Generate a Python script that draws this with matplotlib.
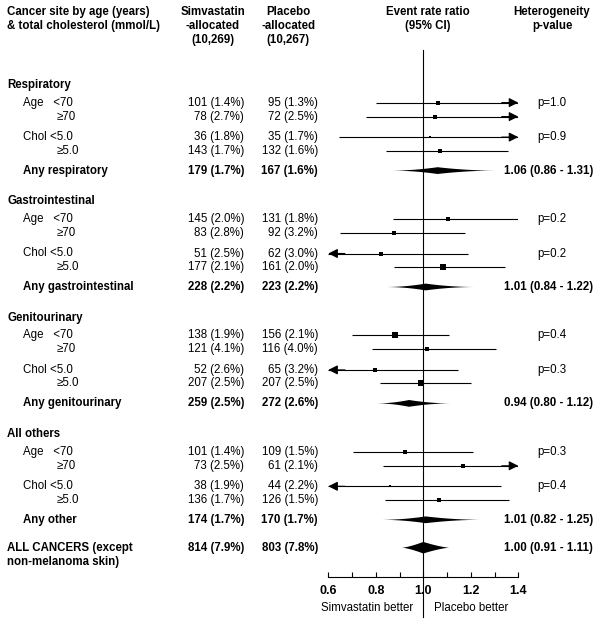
import numpy as np
import matplotlib
matplotlib.use("Agg")
import matplotlib.pyplot as plt
import matplotlib.transforms as mtransforms
from matplotlib.patches import Polygon

plt.rcParams['font.family'] = ['Liberation Sans', 'DejaVu Sans']

# ---------------- data ----------------
groups = ["Respiratory", "Gastrointestinal", "Genitourinary", "All others"]
summary_names = ["Any respiratory", "Any gastrointestinal", "Any genitourinary", "Any other"]
sub_labels = ["Age   <70", "\u226570", "Chol <5.0", "\u22655.0"]

simv_n = [[101, 78, 36, 143], [145, 83, 51, 177], [138, 121, 52, 207], [101, 73, 38, 136]]
simv_pct = [[1.4, 2.7, 1.8, 1.7], [2.0, 2.8, 2.5, 2.1], [1.9, 4.1, 2.6, 2.5], [1.4, 2.5, 1.9, 1.7]]
plac_n = [[95, 72, 35, 132], [131, 92, 62, 161], [156, 116, 65, 207], [109, 61, 44, 126]]
plac_pct = [[1.3, 2.5, 1.7, 1.6], [1.8, 3.2, 3.0, 2.0], [2.1, 4.0, 3.2, 2.5], [1.5, 2.1, 2.2, 1.5]]

sum_simv_n = [179, 228, 259, 174]
sum_simv_pct = [1.7, 2.2, 2.5, 1.7]
sum_plac_n = [167, 223, 272, 170]
sum_plac_pct = [1.6, 2.2, 2.6, 1.7]

# event rate ratios (inf = beyond plotted scale)
inf = np.inf
est = [[1.06, 1.05, 1.03, 1.07], [1.105, 0.875, 0.82, 1.085],
       [0.882, 1.014, 0.798, 0.989], [0.924, 1.166, 0.859, 1.067]]
lo = [[0.80, 0.76, 0.645, 0.845], [0.872, 0.65, -inf, 0.878],
      [0.70, 0.785, -inf, 0.816], [0.704, 0.83, -inf, 0.84]]
hi = [[inf, inf, inf, 1.355], [1.40, 1.177, 1.188, 1.345],
      [1.11, 1.307, 1.145, 1.199], [1.21, inf, 1.328, 1.36]]

p_age = ["p=1.0", "p=0.2", "p=0.4", "p=0.3"]
p_chol = ["p=0.9", "p=0.2", "p=0.3", "p=0.4"]

sum_est = [1.06, 1.01, 0.94, 1.01]
sum_lo = [0.86, 0.84, 0.80, 0.82]
sum_hi = [1.31, 1.22, 1.12, 1.25]

all_simv = (814, 7.9)
all_plac = (803, 7.8)
all_est, all_lo, all_hi = 1.00, 0.91, 1.11

xticks_major = [0.6, 0.8, 1.0, 1.2, 1.4]

# ---------------- figure ----------------
W, H = 600, 626
fig = plt.figure(figsize=(W / 100, H / 100), dpi=100)
x0, x1 = 328.3, 518.3
ax = fig.add_axes([x0 / W, 0, (x1 - x0) / W, 1])
ax.set_xlim(0.6, 1.4)
ax.set_ylim(H, 0)
ax.patch.set_visible(False)
for s in ["left", "right", "top"]:
    ax.spines[s].set_visible(False)
ax.set_yticks([])

FS = 8.3
trans = mtransforms.blended_transform_factory(fig.transFigure, ax.transData)


def txt(xpx, y, s, ha="left", bold=False, **kw):
    ax.text(xpx / W, y, s, transform=trans, ha=ha, va="center", fontsize=FS,
            fontweight="bold" if bold else "normal", clip_on=False, **kw)


# headers
for i, s in enumerate(["Cancer site by age (years)", "& total cholesterol (mmol/L)"]):
    txt(7, 12 + 14 * i, s, bold=True)
for i, s in enumerate(["Simvastatin", "-allocated", "(10,269)"]):
    txt(213, 12 + 14 * i, s, ha="center", bold=True)
for i, s in enumerate(["Placebo", "-allocated", "(10,267)"]):
    txt(288, 12 + 14 * i, s, ha="center", bold=True)
for i, s in enumerate(["Event rate ratio", "(95% CI)"]):
    txt(428, 12 + 14 * i, s, ha="center", bold=True)
for i, s in enumerate(["Heterogeneity", "p-value"]):
    txt(552, 12 + 14 * i, s, ha="center", bold=True)


def diamond(e, l, h, y, hh, p):
    xs_l = np.linspace(l, e, 30)
    xs_r = np.linspace(e, h, 30)
    top_l = hh * ((xs_l - l) / (e - l)) ** p
    top_r = hh * ((h - xs_r) / (h - e)) ** p
    xs = np.concatenate([xs_l, xs_r, xs_r[::-1], xs_l[::-1]])
    ys = np.concatenate([y - top_l, y - top_r, y + top_r[::-1], y + top_l[::-1]])
    ax.add_patch(Polygon(np.column_stack([xs, ys]), closed=True, facecolor="black",
                         edgecolor="none", zorder=3))


gaps_rows = [17.6, 14, 20.5, 13.5]
label_x = [23, 57, 23, 57]
y = 85
lw = 0.8
for g in range(4):
    txt(7, y, groups[g], bold=True)
    for r in range(4):
        y = y + gaps_rows[r]
        txt(label_x[r], y, sub_labels[r])
        txt(244, y, f"{simv_n[g][r]} ({simv_pct[g][r]:.1f}%)", ha="right")
        txt(318, y, f"{plac_n[g][r]} ({plac_pct[g][r]:.1f}%)", ha="right")
        if r == 0:
            txt(537.5, y, p_age[g])
        if r == 2:
            txt(537.5, y, p_chol[g])
        l_, h_ = lo[g][r], hi[g][r]
        lc, hc = max(l_, 0.6), min(h_, 1.4)
        ax.plot([lc, hc], [y, y], color="black", lw=lw, solid_capstyle="butt", zorder=2)
        if h_ > 1.4:
            ax.annotate("", xy=(1.4, y), xytext=(1.33, y),
                        arrowprops=dict(arrowstyle="-|>", color="black", lw=lw,
                                        mutation_scale=14, shrinkA=0, shrinkB=0))
        if l_ < 0.6:
            ax.annotate("", xy=(0.6, y), xytext=(0.67, y),
                        arrowprops=dict(arrowstyle="-|>", color="black", lw=lw,
                                        mutation_scale=14, shrinkA=0, shrinkB=0))
        n = simv_n[g][r] + plac_n[g][r]
        side_pt = 6.0 * np.sqrt(n / 414) * 0.72
        ax.scatter([est[g][r]], [y], marker="s", s=side_pt ** 2, color="black",
                   linewidths=0, zorder=4)
    y = y + 20
    txt(23, y, summary_names[g], bold=True)
    txt(244, y, f"{sum_simv_n[g]} ({sum_simv_pct[g]:.1f}%)", ha="right", bold=True)
    txt(318, y, f"{sum_plac_n[g]} ({sum_plac_pct[g]:.1f}%)", ha="right", bold=True)
    txt(593, y, f"{sum_est[g]:.2f} ({sum_lo[g]:.2f} - {sum_hi[g]:.2f})", ha="right", bold=True)
    diamond(sum_est[g], sum_lo[g], sum_hi[g], y, 3.4, 2.0)
    y = y + 30.8

y = 547.7
txt(7, y, "ALL CANCERS (except", bold=True)
txt(7, y + 14, "non-melanoma skin)", bold=True)
txt(244, y, f"{all_simv[0]} ({all_simv[1]:.1f}%)", ha="right", bold=True)
txt(318, y, f"{all_plac[0]} ({all_plac[1]:.1f}%)", ha="right", bold=True)
txt(593, y, f"{all_est:.2f} ({all_lo:.2f} - {all_hi:.2f})", ha="right", bold=True)
diamond(all_est, all_lo, all_hi, y, 5.8, 1.4)

# reference line
ax.plot([1.0, 1.0], [50, 617], color="black", lw=lw, zorder=1)

# x axis
axis_y = 576.7
ax.spines["bottom"].set_position(("data", axis_y))
ax.spines["bottom"].set_linewidth(lw)
ax.set_xticks(xticks_major)
ax.set_xticks(np.arange(0.7, 1.4, 0.2), minor=True)
ax.set_xticklabels([f"{v:.1f}" for v in xticks_major], fontsize=9, fontweight="bold")
ax.tick_params(axis="x", which="both", direction="in", length=3.5, width=lw, pad=6)

txt(413, 608.3, "Simvastatin better", ha="right")
txt(434, 608.3, "Placebo better")

fig.savefig("out.png", dpi=100)
